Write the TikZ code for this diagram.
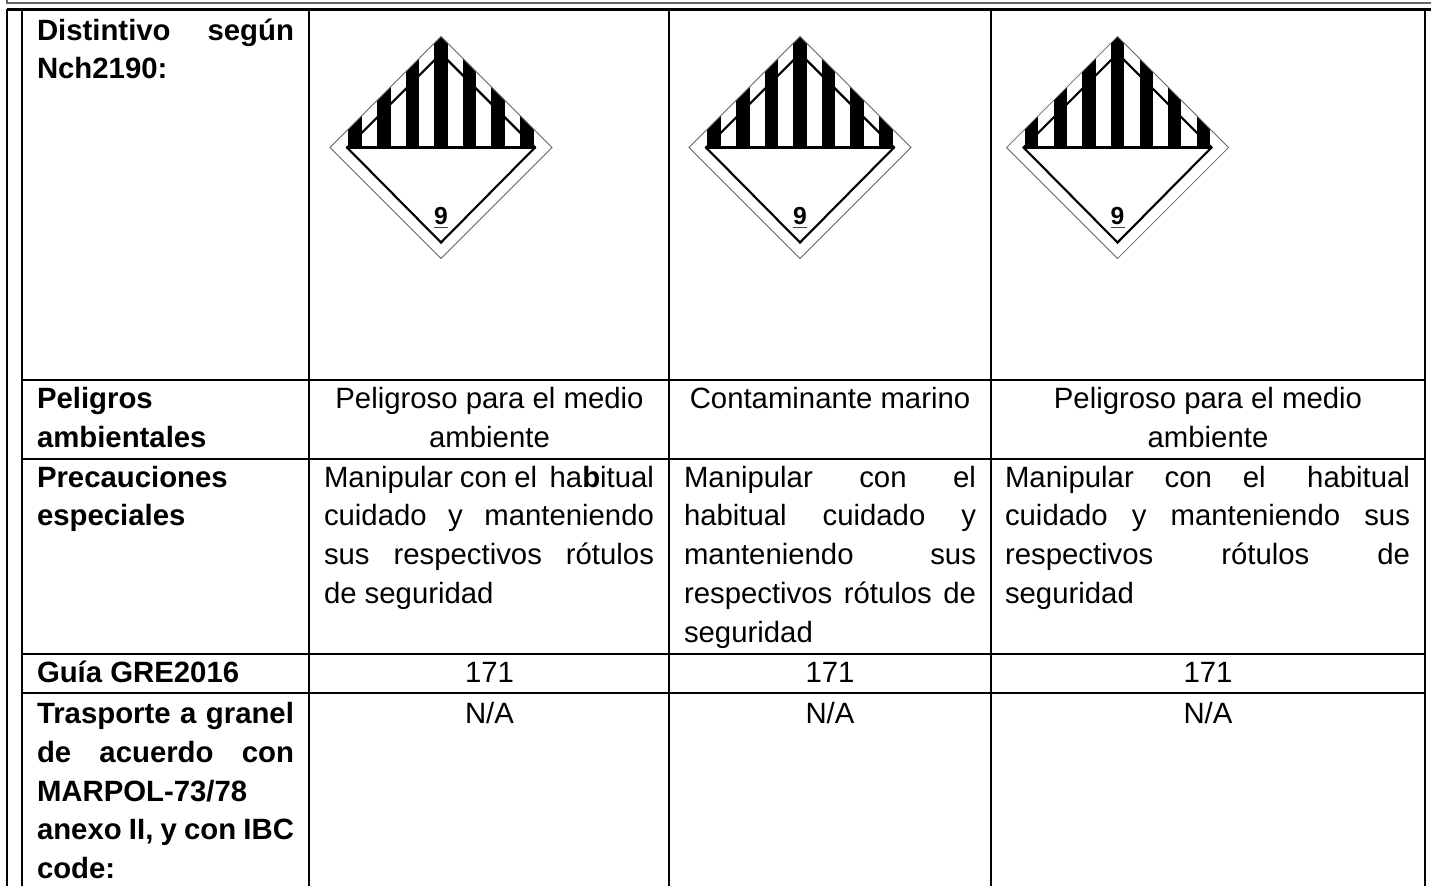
\documentclass[tikz,border=0pt]{standalone}
\usepackage{fontspec}
\setmainfont{Liberation Sans}
\newcommand{\jl}[2]{\makebox[\dimexpr#1pt*3/4\relax][s]{#2}}
\newcommand{\placard}[2]{%
 \begin{scope}[shift={(#1,#2)}]
  \begin{scope}
   \clip (0,-111)--(111,0)--(-111,0)--cycle;
   \foreach \a in {-86,-57,-28.7,0,28.7,57,86}{
    \fill[black] (\a-6.7,0) rectangle (\a+6.7,-112);
   }
  \end{scope}
  \draw[outline] (0,-111)--(111,0)--(0,111)--(-111,0)--cycle;
  \draw[inner] (-94,0)--(0,-94)--(94,0);
  \draw[inner,line join=miter] (-94,0)--(0,95)--(94,0);
  \draw[base,line cap=round] (-94,0)--(94,0);
  \node[nine] at (0,76.5) {9};
  \draw[black!75,line width=1pt] (-7,80)--(7,80);
 \end{scope}}
\tikzset{x=0.75pt,y=-0.75pt,
 rule/.style={draw=black,line width=1.5pt},
 heavy/.style={draw=black,line width=2.3pt},
 greyrule/.style={draw=black!60,line width=1.7pt},
 lab/.style={anchor=base west,inner sep=0pt,outer sep=0pt,font=\fontsize{22}{22}\selectfont\bfseries},
 txt/.style={anchor=base west,inner sep=0pt,outer sep=0pt,font=\fontsize{22}{22}\selectfont},
 ctr/.style={anchor=base,inner sep=0pt,outer sep=0pt,font=\fontsize{22}{22}\selectfont},
 outline/.style={draw=black!60,line width=0.55pt,line join=miter},
 inner/.style={draw=black,line width=1.6pt},
 base/.style={draw=black,line width=2.2pt},
 nine/.style={anchor=base,inner sep=0pt,font=\fontsize{18.5}{18.5}\selectfont\bfseries}}
\begin{document}
\begin{tikzpicture}
\useasboundingbox (0,0) rectangle (1431,886);
\fill[white] (0,0) rectangle (1431,886);
% frame
\draw[greyrule] (7,0)--(7,2.8)--(1431,2.8);
\draw[heavy] (7,9.3)--(1431,9.3);
\draw[rule] (7,9)--(7,886);
\draw[rule] (21.5,9)--(21.5,886);
\draw[rule] (309,9)--(309,886);
\draw[rule] (669,9)--(669,886);
\draw[rule] (991,9)--(991,886);
\draw[rule] (1425,9)--(1425,886);
\foreach \r in {380,459,654,693}{\draw[rule] (21.5,\r)--(1425,\r);}
% placards
\placard{441}{147.5}
\placard{800}{147.5}
\placard{1117.5}{147.5}
% first column
\node[lab] (a1) at (37,40) {\jl{257}{Distintivo según}};
\node[lab] (a2) at (37,78) {Nch2190:};
\node[lab] (a3) at (37,408) {Peligros};
\node[lab] (a4) at (37,447) {ambientales};
\node[lab] (a5) at (37,487) {Precauciones};
\node[lab] (a6) at (37,525) {especiales};
\node[lab] (a7) at (37,682) {Guía GRE2016};
\node[lab] (a8) at (37,723.5) {\jl{257}{Trasporte a granel}};
\node[lab] (a9) at (37,762.5) {\jl{257}{de acuerdo con}};
\node[lab] (a10) at (37,801.5) {MARPOL-73/78};
\node[lab] (a11) at (37,839.5) {\jl{257}{anexo II, y con IBC}};
\node[lab] (a12) at (37,878) {code:};
% hazards
\node[ctr] (b1) at (489.5,408) {Peligroso para el medio};
\node[ctr] (b2) at (489.5,447) {ambiente};
\node[ctr] (c1) at (830,408) {Contaminante marino};
\node[ctr] (d1) at (1208,408) {Peligroso para el medio};
\node[ctr] (d2) at (1208,447) {ambiente};
% precautions
\node[txt] (b3) at (324,487) {\jl{330}{Manipular con el\hspace{4pt} ha\textbf{b}itual}};
\node[txt] (b4) at (324,525) {\jl{330}{cuidado y manteniendo}};
\node[txt] (b5) at (324,564) {\jl{330}{sus respectivos rótulos}};
\node[txt] (b6) at (324,603) {de seguridad};
\node[txt] (c2) at (684,487) {\jl{292}{Manipular con el}};
\node[txt] (c3) at (684,525) {\jl{292}{habitual cuidado y}};
\node[txt] (c4) at (684,564) {\jl{292}{manteniendo sus}};
\node[txt] (c5) at (684,603) {\jl{292}{respectivos rótulos de}};
\node[txt] (c6) at (684,642) {seguridad};
\node[txt] (d3) at (1005,487) {\jl{405}{Manipular con el\hspace{8pt} habitual}};
\node[txt] (d4) at (1005,525) {\jl{405}{cuidado y manteniendo sus}};
\node[txt] (d5) at (1005,564) {\jl{405}{respectivos rótulos de}};
\node[txt] (d6) at (1005,603) {seguridad};
% guide and bulk
\node[ctr] (b7) at (489.5,682) {171};
\node[ctr] (c7) at (830,682) {171};
\node[ctr] (d7) at (1208,682) {171};
\node[ctr] (b8) at (489.5,723.5) {N/A};
\node[ctr] (c8) at (830,723.5) {N/A};
\node[ctr] (d8) at (1208,723.5) {N/A};
\end{tikzpicture}
\end{document}
